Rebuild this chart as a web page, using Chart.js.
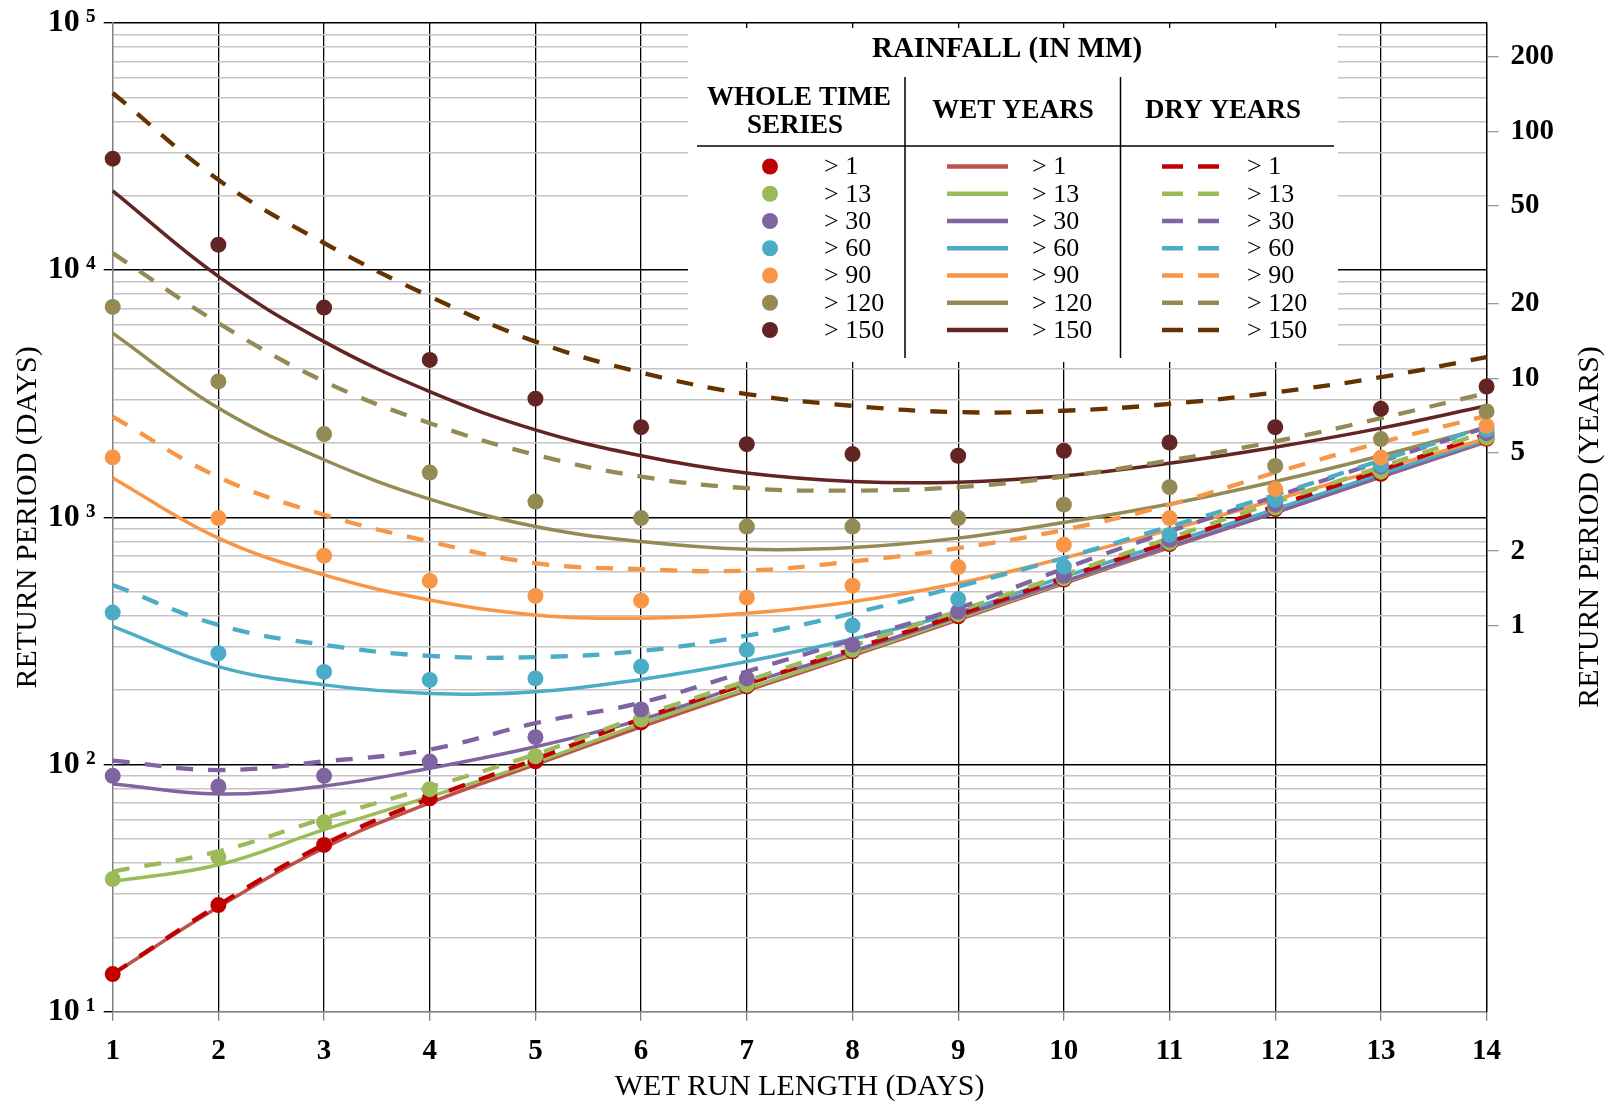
<!DOCTYPE html>
<html><head><meta charset="utf-8">
<script src="https://cdn.jsdelivr.net/npm/chart.js@4.4.1/dist/chart.umd.min.js"></script>
<style>html,body{margin:0;padding:0;background:#fff}#c{display:block}</style>
</head><body>
<canvas id="c" width="1612" height="1105"></canvas>
<script>
// ---------- DATA ----------
const days = [1,2,3,4,5,6,7,8,9,10,11,12,13,14];
const thresholds = ['> 1','> 13','> 30','> 60','> 90','> 120','> 150'];

// Whole time series (dots), return period in days
const whole_gt1   = [14.2, 27.0, 47.3, 73, 103, 148, 207, 287, 398, 560, 780, 1080, 1500, 2080];
const whole_gt13  = [34.4, 42.2, 58.4, 79.5, 108, 152, 210, 291, 405, 567, 790, 1095, 1530, 2100];
const whole_gt30  = [90, 81.5, 90, 102.8, 129, 167, 223, 305, 416, 580, 811, 1125, 1607, 2191];
const whole_gt60  = [412, 282, 237, 220, 223, 249, 291, 365, 467, 632, 849, 1178, 1631, 2262];
const whole_gt90  = [1747, 993, 700, 553, 481, 460, 474, 529, 629, 774, 993, 1300, 1745, 2344];
const whole_gt120 = [7100, 3548, 2173, 1518, 1158, 993, 918, 918, 993, 1125, 1325, 1615, 2073, 2682];
const whole_gt150 = [28250, 12680, 7060, 4335, 3020, 2317, 1977, 1803, 1775, 1859, 2008, 2317, 2748, 3383];

// Wet years (solid lines)
const wet_gt1   = [14.2, 26.5, 46, 70, 100, 142, 199, 276, 385, 540, 755, 1045, 1455, 2020];
const wet_gt13  = [33.6, 39.3, 54.5, 74.1, 102, 146, 203, 280, 390, 546, 762, 1052, 1465, 2035];
const wet_gt30  = [83.4, 76, 81.9, 96.6, 118, 152, 212, 287, 397, 550, 762, 1046, 1462, 2028];
const wet_gt60  = [362, 249, 210, 194, 197, 221, 261, 322, 412, 575, 791, 1080, 1500, 2061];
const wet_gt90  = [1443, 824, 585, 463, 403, 391, 409, 456, 541, 685, 890, 1178, 1567, 2088];
const wet_gt120 = [5560, 2767, 1710, 1185, 918, 798, 743, 755, 824, 953, 1132, 1397, 1775, 2317];
const wet_gt150 = [20940, 9440, 5140, 3228, 2259, 1775, 1510, 1397, 1388, 1472, 1656, 1923, 2296, 2826];

// Dry years (dashed lines)
const dry_gt1   = [14.2, 27, 47.5, 73, 105, 153, 212, 293, 403, 568, 795, 1110, 1550, 2170];
const dry_gt13  = [36.9, 44.5, 60.5, 80.9, 110, 157, 218, 302, 418, 585, 825, 1150, 1600, 2220];
const dry_gt30  = [103.7, 95, 103, 115, 147, 178, 238, 319, 429, 620, 877, 1214, 1683, 2317];
const dry_gt60  = [533, 367, 305, 275, 272, 288, 332, 409, 525, 685, 918, 1233, 1700, 2330];
const dry_gt90  = [2558, 1455, 1024, 798, 653, 617, 609, 663, 751, 890, 1125, 1518, 2010, 2575];
const dry_gt120 = [11720, 6110, 3548, 2404, 1790, 1462, 1312, 1283, 1325, 1462, 1700, 2028, 2519, 3184];
const dry_gt150 = [52100, 23200, 12880, 7830, 5140, 3855, 3155, 2826, 2665, 2700, 2876, 3202, 3690, 4447];

const yearTicks = [1, 2, 5, 10, 20, 50, 100, 200];
const daysPerYear = 365;

const legendTitle = 'RAINFALL (IN MM)';
const groupHeaders = [['WHOLE TIME', 'SERIES'], ['WET YEARS'], ['DRY YEARS']];
const xTitle = 'WET RUN LENGTH (DAYS)';
const yTitle = 'RETURN PERIOD (DAYS)';
const y2Title = 'RETURN PERIOD (YEARS)';

// ---------- STYLE ----------
const dotColors = ['#C00000','#9BBB59','#8064A2','#4BACC6','#F79646','#948A54','#632523'];
const wetColors = ['#C0504D','#9BBB59','#8064A2','#4BACC6','#F79646','#948A54','#632523'];
const dryColors = ['#C00000','#9BBB59','#8064A2','#4BACC6','#F79646','#948A54','#663300'];
const SERIF = "'Liberation Serif', 'DejaVu Serif', serif";

const wholeAll = [whole_gt1, whole_gt13, whole_gt30, whole_gt60, whole_gt90, whole_gt120, whole_gt150];
const wetAll = [wet_gt1, wet_gt13, wet_gt30, wet_gt60, wet_gt90, wet_gt120, wet_gt150];
const dryAll = [dry_gt1, dry_gt13, dry_gt30, dry_gt60, dry_gt90, dry_gt120, dry_gt150];
const toPts = arr => arr.map((v, i) => ({x: days[i], y: v}));

// Chart.js draws lower-index datasets of equal order on top, so push highest threshold first
const datasets = [];
for (let i = thresholds.length - 1; i >= 0; i--) datasets.push({
  label: 'Whole ' + thresholds[i], data: toPts(wholeAll[i]), showLine: false,
  pointRadius: 8, pointBackgroundColor: dotColors[i], pointBorderWidth: 0,
  borderColor: dotColors[i], order: 0, clip: false
});
for (let i = thresholds.length - 1; i >= 0; i--) datasets.push({
  label: 'Dry ' + thresholds[i], data: toPts(dryAll[i]), borderColor: dryColors[i],
  borderWidth: 4.3, borderDash: [17, 15], pointRadius: 0, tension: 0.4, fill: false, order: 1, clip: false
});
for (let i = thresholds.length - 1; i >= 0; i--) datasets.push({
  label: 'Wet ' + thresholds[i], data: toPts(wetAll[i]), borderColor: wetColors[i],
  borderWidth: 3.5, pointRadius: 0, tension: 0.4, fill: false, order: 2, clip: false
});

const yTickValues = [];
for (let e = 1; e <= 4; e++) for (let m = 1; m <= 9; m++) yTickValues.push(m * Math.pow(10, e));
yTickValues.push(100000);
const isDecade = v => { const e = Math.round(Math.log10(v)); return Math.abs(v - Math.pow(10, e)) < 1e-6 * v; };
const sup = ['\u2070','\u00B9','\u00B2','\u00B3','\u2074','\u2075'];

const tableLegend = {
  id: 'tableLegend',
  beforeDatasetsDraw(chart) {
    const c = chart.ctx;
    c.save();
    c.fillStyle = '#fff';
    c.fillRect(688, 28, 650, 334);
    c.fillStyle = '#000';
    c.textAlign = 'center';
    c.textBaseline = 'middle';
    c.font = 'bold 29px ' + SERIF;
    c.fillText(legendTitle, 1007, 50);
    c.font = 'bold 27px ' + SERIF;
    c.fillText(groupHeaders[0][0], 799, 98);
    c.fillText(groupHeaders[0][1], 795, 126);
    c.fillText(groupHeaders[1][0], 1013, 111);
    c.fillText(groupHeaders[2][0], 1223, 111);
    c.strokeStyle = '#000';
    c.lineWidth = 1.5;
    c.beginPath();
    c.moveTo(697, 146); c.lineTo(1334, 146);
    c.moveTo(905, 77); c.lineTo(905, 358);
    c.moveTo(1120.5, 77); c.lineTo(1120.5, 358);
    c.stroke();
    c.font = '26px ' + SERIF;
    c.textAlign = 'left';
    thresholds.forEach((t, i) => {
      const y = 166.5 + i * 27.25;
      c.fillStyle = dotColors[i];
      c.beginPath(); c.arc(770, y, 8, 0, Math.PI * 2); c.fill();
      c.strokeStyle = wetColors[i]; c.lineWidth = 4.5; c.setLineDash([]);
      c.beginPath(); c.moveTo(947, y); c.lineTo(1008, y); c.stroke();
      c.strokeStyle = dryColors[i]; c.setLineDash([21, 15]);
      c.beginPath(); c.moveTo(1162, y); c.lineTo(1219, y); c.stroke();
      c.setLineDash([]);
      c.fillStyle = '#000';
      c.fillText(t, 824, y + 1);
      c.fillText(t, 1032, y + 1);
      c.fillText(t, 1247, y + 1);
    });
    c.restore();
  },
  afterDraw(chart) {
    const c = chart.ctx;
    c.save();
    c.translate(chart.width - 22, 527);
    c.rotate(-Math.PI / 2);
    c.font = '30px ' + SERIF;
    c.fillStyle = '#000';
    c.textAlign = 'center';
    c.textBaseline = 'middle';
    c.fillText(y2Title, 0, 0);
    c.restore();
  }
};

new Chart(document.getElementById('c'), {
  type: 'line',
  data: { datasets },
  plugins: [tableLegend],
  options: {
    responsive: false, animation: false, devicePixelRatio: 1,
    layout: { padding: { top: 23, left: 0, right: 0, bottom: 0 } },
    plugins: { legend: { display: false }, tooltip: { enabled: false } },
    scales: {
      x: {
        type: 'linear', min: 1, max: 14,
        afterBuildTicks: s => { s.ticks = days.map(v => ({value: v})); },
        afterFit: s => { s.height = 93.3; s.paddingLeft = 0; s.paddingRight = 0; },
        ticks: { font: { family: SERIF, size: 29, weight: 'bold' }, color: '#000', padding: 13, autoSkip: false, maxRotation: 0 },
        grid: {
          color: ctx => (ctx.tick && ctx.tick.value === 1) ? '#808080' : '#000',
          lineWidth: 1.3, tickLength: 9, tickColor: '#808080'
        },
        border: { color: '#808080', width: 1.3 },
        title: { display: true, text: xTitle, font: { family: SERIF, size: 30 }, color: '#000', padding: { top: 0, bottom: 0 } }
      },
      y: {
        type: 'logarithmic', position: 'left', min: 10, max: 100000,
        afterBuildTicks: s => { s.ticks = yTickValues.map(v => ({value: v})); },
        afterFit: s => { s.width = 112.7; s.paddingTop = 0; s.paddingBottom = 0; },
        ticks: {
          autoSkip: false, font: { family: SERIF, size: 32, weight: 'bold' }, color: '#000', padding: 8,
          callback: v => isDecade(v) ? '10\u2009' + sup[Math.round(Math.log10(v))] : ''
        },
        grid: {
          color: ctx => {
            const v = ctx.tick ? ctx.tick.value : 0;
            if (!isDecade(v)) return '#C4C4C4';
            return v === 10 ? '#808080' : '#000';
          },
          tickColor: ctx => (ctx.tick && isDecade(ctx.tick.value)) ? '#000' : 'rgba(0,0,0,0)',
          lineWidth: 1.4, tickLength: 9
        },
        border: { color: '#808080', width: 1.3 },
        title: { display: true, text: yTitle, font: { family: SERIF, size: 30 }, color: '#000', padding: { top: 10, bottom: 0 } }
      },
      y2: {
        type: 'logarithmic', position: 'right', min: 10 / daysPerYear, max: 100000 / daysPerYear,
        afterBuildTicks: s => { s.ticks = yearTicks.map(v => ({value: v})); },
        afterFit: s => { s.width = 125.4; s.paddingTop = 0; s.paddingBottom = 0; },
        ticks: { autoSkip: false, font: { family: SERIF, size: 29, weight: 'bold' }, color: '#000', padding: 12,
          callback: v => String(v) },
        grid: { drawOnChartArea: false, drawTicks: true, tickLength: 12, color: '#999', lineWidth: 1.3 },
        border: { display: true, color: '#000', width: 1.3 }
      }
    }
  }
});
</script>
</body></html>
